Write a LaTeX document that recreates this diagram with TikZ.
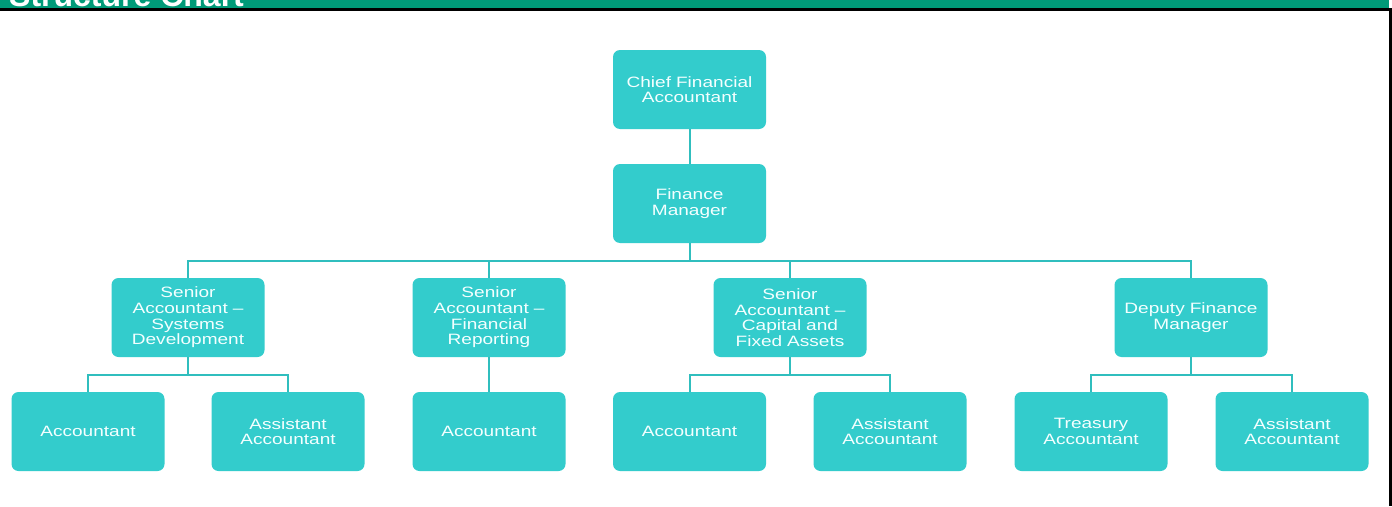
\documentclass[tikz,border=0pt]{standalone}
\usepackage{fontspec}
\setmainfont{Liberation Sans}
\newfontfamily\boxfont[FakeStretch=1.27]{Liberation Sans}
\definecolor{hdr}{HTML}{009A78}
\definecolor{boxc}{HTML}{33CCCC}
\definecolor{linec}{HTML}{30BEBE}
\definecolor{txt}{HTML}{F4FFFF}
\tikzset{
  posbox/.style={draw=none, fill=boxc, rounded corners=7pt, minimum width=153pt, minimum height=79pt,
    inner sep=2pt, align=center, text=txt, font=\boxfont\fontsize{15}{15.6}\selectfont, text width=146pt},
  conn/.style={draw=linec, line width=2pt},
}
\begin{document}
\begin{tikzpicture}[x=1pt,y=-1pt]
\useasboundingbox (0,0) rectangle (1392,506);
\fill[white] (0,0) rectangle (1392,506);
% header
\begin{scope}
\clip (0,0) rectangle (1389,8.5);
\fill[hdr] (0,0) rectangle (1389,8.5);
\node[anchor=base west, inner sep=0, text=white, font=\fontsize{32}{32}\bfseries\selectfont] (title) at (9,6) {Structure Chart};
\end{scope}
\fill[black] (0,8) rectangle (1389,10.5);
\fill[black] (1388.5,8) rectangle (1392,506);
% nodes
\node[posbox] (cfa) at (689.5,89.5) {Chief Financial\\Accountant};
\node[posbox] (fm) at (689.5,203.5) {Finance\\Manager};
\node[posbox] (s1) at (188,317.5) {Senior\\Accountant –\\Systems\\Development};
\node[posbox] (s2) at (489,317.5) {Senior\\Accountant –\\Financial\\Reporting};
\node[posbox] (s3) at (790,317.5) {Senior\\Accountant –\\Capital and\\Fixed Assets};
\node[posbox] (s4) at (1191,317.5) {Deputy Finance\\Manager};
\node[posbox] (a1) at (88,431.5) {Accountant};
\node[posbox] (a2) at (288,431.5) {Assistant\\Accountant};
\node[posbox] (a3) at (489,431.5) {Accountant};
\node[posbox] (a4) at (689.5,431.5) {Accountant};
\node[posbox] (a5) at (890,431.5) {Assistant\\Accountant};
\node[posbox] (a6) at (1091,431.5) {Treasury\\Accountant};
\node[posbox] (a7) at (1292,431.5) {Assistant\\Accountant};
% connectors
\coordinate (bus) at (689.5,261);
\coordinate (b1) at (188,375);
\coordinate (b3) at (790,375);
\coordinate (b4) at (1191,375);
\draw[conn] (cfa.south) -- (fm.north);
\draw[conn] (fm.south) -- (bus);
\draw[conn] (bus) -| (s1.north);
\draw[conn] (bus) -| (s2.north);
\draw[conn] (bus) -| (s3.north);
\draw[conn] (bus) -| (s4.north);
\draw[conn] (s1.south) -- (b1);
\draw[conn] (b1) -| (a1.north);
\draw[conn] (b1) -| (a2.north);
\draw[conn] (s2.south) -- (a3.north);
\draw[conn] (s3.south) -- (b3);
\draw[conn] (b3) -| (a4.north);
\draw[conn] (b3) -| (a5.north);
\draw[conn] (s4.south) -- (b4);
\draw[conn] (b4) -| (a6.north);
\draw[conn] (b4) -| (a7.north);
\end{tikzpicture}
\end{document}
